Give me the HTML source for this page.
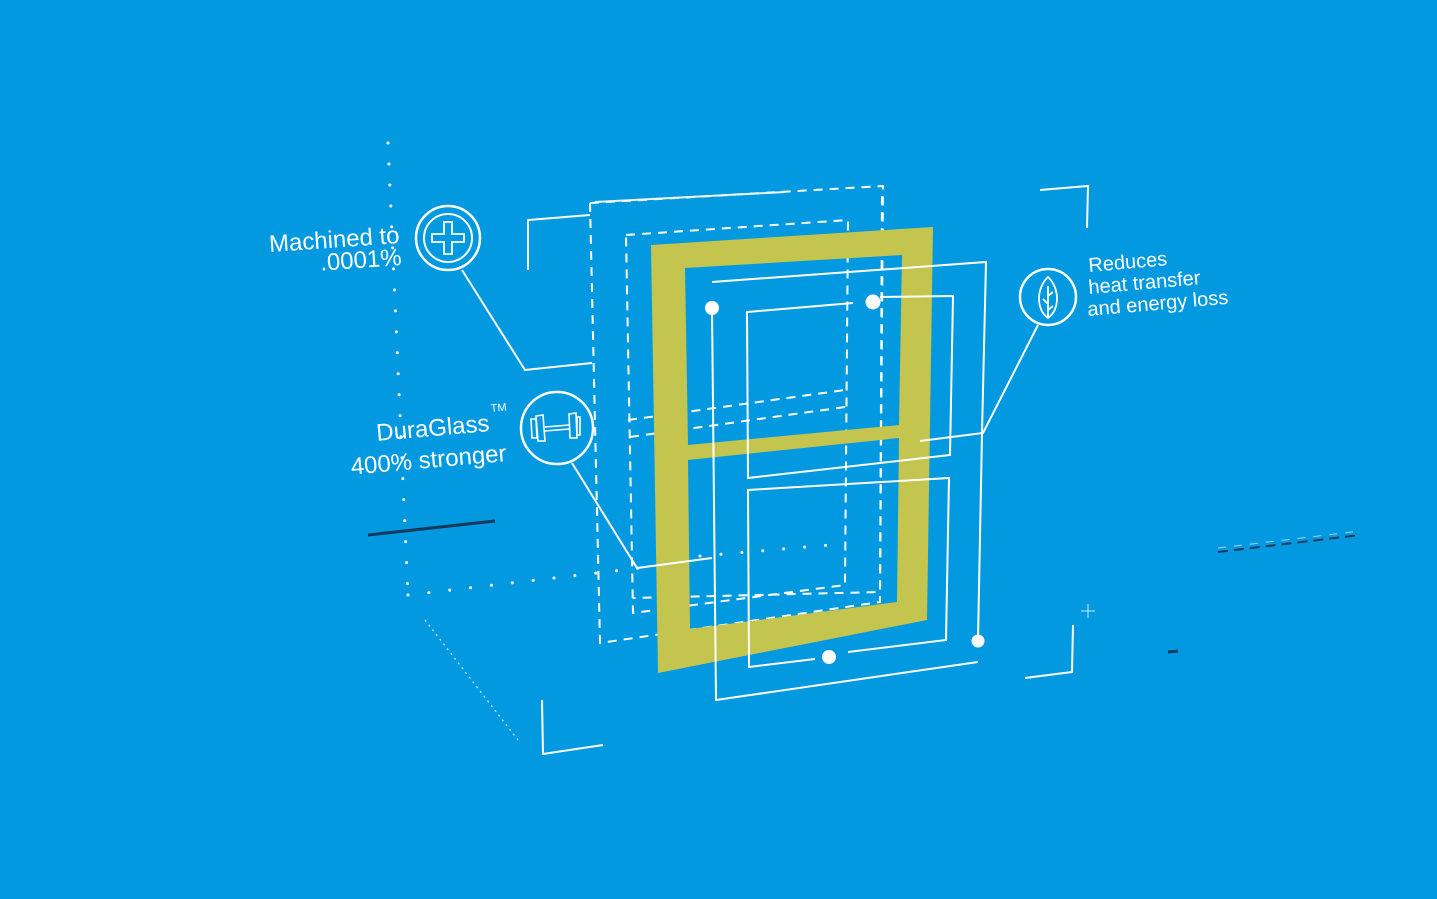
<!DOCTYPE html>
<html><head><meta charset="utf-8"><style>
html,body{margin:0;padding:0;background:#0299e1;width:1437px;height:899px;overflow:hidden}
svg{display:block}
text{font-family:"Liberation Sans",sans-serif;fill:#fff}
</style></head><body>
<svg width="1437" height="899" viewBox="0 0 1437 899" xmlns="http://www.w3.org/2000/svg">
<rect width="1437" height="899" fill="#0299e1"/>
<g stroke="#fff" stroke-width="3" stroke-linecap="round" stroke-dasharray="0 21" fill="none">
<path d="M388 143 L408 595"/>
<path d="M408 595 L640 568"/>
<path d="M700 556 L830 545"/>
</g>
<path d="M425 620 L518 740" stroke="#fff" stroke-width="1.2" stroke-dasharray="2 4" fill="none" opacity="0.8"/>
<path d="M368 535 L495 521" stroke="#123a5c" stroke-width="3"/>
<path d="M1218 552 L1360 535" stroke="#1a3a5a" stroke-width="2" stroke-dasharray="10 6"/>
<path d="M1218 548 L1360 531" stroke="#fff" stroke-width="1" stroke-dasharray="8 8" opacity="0.6"/>
<path d="M1168 652 L1178 651" stroke="#123a5c" stroke-width="3"/>
<path d="M1081 611 H1095 M1088 604 V618" stroke="#fff" stroke-width="1" opacity="0.8"/>
<g stroke="#fff" stroke-width="2" fill="none">
<path d="M528 270 L528 220 L590 215"/>
<path d="M1040 190 L1088 186 L1087 228"/>
<path d="M542 700 L543 754 L603 745"/>
<path d="M1073 625 L1072 672 L1025 678"/>
</g>
<path d="M595 202 L785 192" stroke="#fff" stroke-width="2" opacity="0.9"/>
<g stroke="#fff" stroke-width="2" fill="none" stroke-dasharray="9 7">
<path d="M590 203 L883 186 L880 592 L633 598"/>
<path d="M590 203 L600 643 L880 602 L882 190"/>
<path d="M626 235 L848 220 L845 585 L633 613 Z"/>
<path d="M628 420 L845 390"/>
<path d="M630 437 L845 407"/>
</g>
<path fill="#c3c54f" fill-rule="evenodd" d="M651 245 L933 227 L927 620 L658 673 Z M685 268 L902 255 L899 425 L688 445 Z M688 460 L899 438 L897 602 L690 629 Z"/>
<g stroke="#fff" stroke-width="2" fill="none">
<path d="M712 282 L986 262 L982 433"/>
<path d="M982 433 L978 640"/>
<path d="M712 308 L716 700 L978 662"/>
<path d="M853 303 L747 312 L748 478 L950 455 L953 296 L880 297"/>
<path d="M815 659 L749 667 L748 490 L949 478 L946 640 L848 652"/>
<path d="M462 270 L525 370 L592 363"/>
<path d="M572 463 L637 568 L712 558"/>
<path d="M1038 325 L983 433 L920 441"/>
<circle cx="448" cy="238" r="32" stroke-width="2.5"/>
<circle cx="448" cy="238" r="24" stroke-width="2"/>
<circle cx="557" cy="428" r="36" stroke-width="2.5"/>
<circle cx="1048" cy="297" r="28" stroke-width="2.5"/>
<path d="M444 222 h8 v12 h12 v8 h-12 v12 h-8 v-12 h-12 v-8 h12 Z" stroke-width="1.8"/>
<path d="M538 441 L536 416 L543 415 L545 441 Z M532 438 L531 419 L536 419 L537 438 Z M570 438 L569 414 L576 413 L577 438 Z M577 435 L577 417 L580 417 L580 435 Z M545 427 L569 425 M545 431 L569 429" stroke-width="1.6"/>
<path d="M1048 277 C1036 288 1036 310 1048 318 C1060 310 1060 288 1048 277 Z M1048 286 L1048 318 M1048 296 L1053 292 M1048 304 L1043 299 M1048 310 L1053 306" stroke-width="1.8"/>
</g>
<g fill="#fff">
<circle cx="712" cy="308" r="7"/>
<circle cx="873" cy="302" r="7.5"/>
<circle cx="829" cy="657" r="7"/>
<circle cx="978" cy="641" r="6.5"/>
</g>
<g font-size="22">
<text x="400" y="243" text-anchor="end" font-size="24" transform="rotate(-4 400 243)">Machined to</text>
<text x="402" y="265" text-anchor="end" font-size="24" transform="rotate(-4 402 265)">.0001%</text>
<text x="490" y="431" text-anchor="end" font-size="24" transform="rotate(-5 490 431)">DuraGlass</text>
<text x="491" y="412" font-size="11" transform="rotate(-5 491 412)">TM</text>
<text x="507" y="461" text-anchor="end" font-size="24" transform="rotate(-5 507 461)">400% stronger</text>
<text x="1089" y="272" font-size="20" transform="rotate(-5 1089 272)">Reduces</text>
<text x="1089" y="294" font-size="20" transform="rotate(-5 1089 294)">heat transfer</text>
<text x="1088" y="316" font-size="20" transform="rotate(-5 1088 316)">and energy loss</text>
</g>
</svg>
</body></html>
